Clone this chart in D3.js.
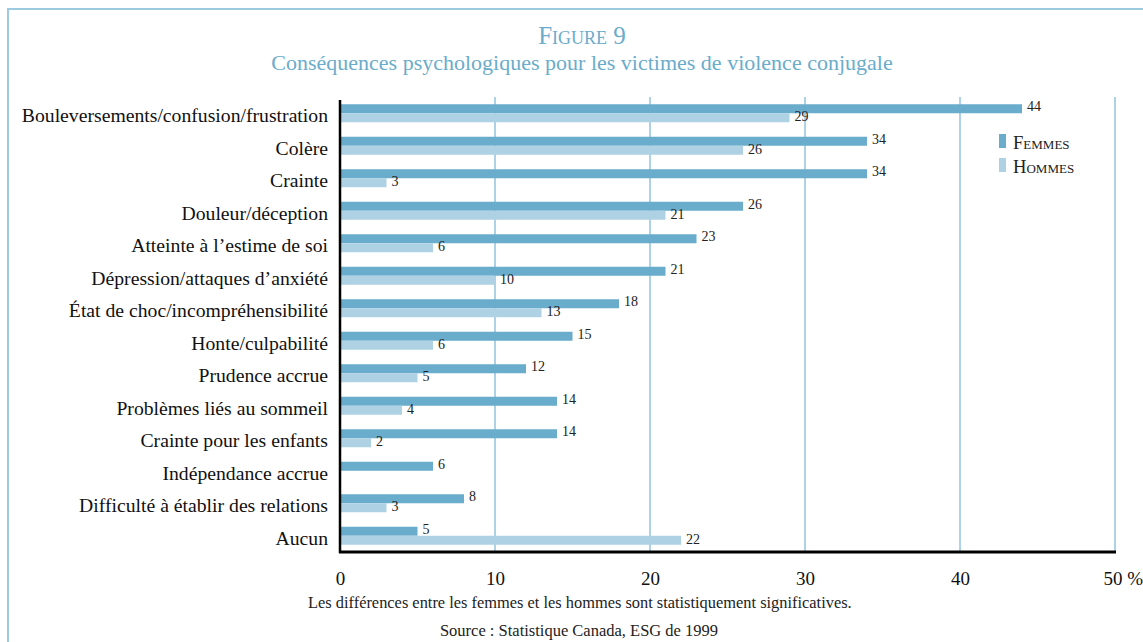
<!DOCTYPE html>
<html>
<head>
<meta charset="utf-8">
<script src="https://cdn.jsdelivr.net/npm/d3@7"></script>
<style>
  html, body { margin: 0; padding: 0; background: #fff; }
  svg text { font-family: "Liberation Serif", "DejaVu Serif", serif; }
</style>
</head>
<body>
<div id="chart"></div>
<script>
// Données
const categories = [
    'Bouleversements/confusion/frustration',
    'Colère',
    'Crainte',
    'Douleur/déception',
    'Atteinte à l\u2019estime de soi',
    'Dépression/attaques d\u2019anxiété',
    'État de choc/incompréhensibilité',
    'Honte/culpabilité',
    'Prudence accrue',
    'Problèmes liés au sommeil',
    'Crainte pour les enfants',
    'Indépendance accrue',
    'Difficulté à établir des relations',
    'Aucun'
];
const femmes = [44, 34, 34, 26, 23, 21, 18, 15, 12, 14, 14, 6, 8, 5];
const hommes = [29, 26, 3, 21, 6, 10, 13, 6, 5, 4, 2, null, 3, 22];
const xTicks = [0, 10, 20, 30, 40, 50];
const seriesNames = ['Femmes', 'Hommes'];

const COLORS = { Femmes: '#6aaccb', Hommes: '#aed2e3' };
const BLUE = '#6aaccb';

const width = 1143, height = 642;
const margin = { top: 97, bottom: 552, left: 340 };

const svg = d3.select('#chart').append('svg')
    .attr('width', width)
    .attr('height', height);

// cadre
svg.append('rect')
    .attr('x', 8).attr('y', 9)
    .attr('width', width + 20).attr('height', height + 20)
    .attr('fill', 'none')
    .attr('stroke', '#9ccae0')
    .attr('stroke-width', 2);

// titres
svg.append('text')
    .attr('x', 582).attr('y', 44)
    .attr('text-anchor', 'middle')
    .attr('fill', BLUE)
    .style('font-size', '25px')
    .style('font-variant', 'small-caps')
    .text('Figure 9');
svg.append('text')
    .attr('x', 582).attr('y', 70)
    .attr('text-anchor', 'middle')
    .attr('fill', BLUE)
    .style('font-size', '22px')
    .text('Conséquences psychologiques pour les victimes de violence conjugale');

const x = d3.scaleLinear().domain([0, 50]).range([margin.left, margin.left + 775]);
const y = d3.scaleBand().domain(categories).range([margin.top, margin.bottom]);
const barH = 9;

const g = svg.append('g');

// grille
g.selectAll('.grid')
    .data(xTicks.filter(d => d > 0))
    .join('line')
    .attr('class', 'grid')
    .attr('x1', d => x(d)).attr('x2', d => x(d))
    .attr('y1', margin.top).attr('y2', margin.bottom)
    .attr('stroke', '#5ea6cc')
    .attr('stroke-width', 1);

const rows = categories.map((c, i) => ({ cat: c, femmes: femmes[i], hommes: hommes[i] }));
const mid = d => y(d.cat) + y.bandwidth() / 2;

// barres femmes
g.selectAll('.bar-f')
    .data(rows)
    .join('rect')
    .attr('class', 'bar-f')
    .attr('x', x(0))
    .attr('y', d => mid(d) - barH)
    .attr('width', d => x(d.femmes) - x(0))
    .attr('height', barH)
    .attr('fill', COLORS.Femmes);

// barres hommes (pas de valeur pour Indépendance accrue)
g.selectAll('.bar-h')
    .data(rows.filter(d => d.hommes != null))
    .join('rect')
    .attr('class', 'bar-h')
    .attr('x', x(0))
    .attr('y', d => mid(d))
    .attr('width', d => x(d.hommes) - x(0))
    .attr('height', barH)
    .attr('fill', COLORS.Hommes);

// étiquettes de valeurs
g.selectAll('.lab-f')
    .data(rows)
    .join('text')
    .attr('class', 'lab-f')
    .attr('x', d => x(d.femmes) + 5)
    .attr('y', d => mid(d) - barH / 2 + 2.5)
    .style('font-size', '14px')
    .attr('fill', '#222')
    .text(d => d.femmes);

g.selectAll('.lab-h')
    .data(rows.filter(d => d.hommes != null))
    .join('text')
    .attr('class', 'lab-h')
    .attr('x', d => x(d.hommes) + 5)
    .attr('y', d => mid(d) + barH / 2 + 3.5)
    .style('font-size', '14px')
    .attr('fill', '#222')
    .text(d => d.hommes);

// catégories
g.selectAll('.cat')
    .data(categories)
    .join('text')
    .attr('class', 'cat')
    .attr('x', 328)
    .attr('y', d => y(d) + y.bandwidth() / 2 + 9)
    .attr('text-anchor', 'end')
    .attr('fill', '#111')
    .style('font-size', '19.7px')
    .text(d => d);

// axes
g.append('line')
    .attr('x1', x(0)).attr('x2', x(0))
    .attr('y1', 100).attr('y2', margin.bottom + 1)
    .attr('stroke', '#000').attr('stroke-width', 2.5);
g.append('line')
    .attr('x1', x(0) - 1).attr('x2', x(50) + 1)
    .attr('y1', margin.bottom).attr('y2', margin.bottom)
    .attr('stroke', '#000').attr('stroke-width', 3);

const xAxis = d3.axisBottom(x)
    .tickValues(xTicks)
    .tickSize(0)
    .tickPadding(0)
    .tickFormat(d => d === 50 ? '50 %' : d);
const xAxisG = svg.append('g')
    .attr('transform', 'translate(0,571)')
    .call(xAxis);
xAxisG.select('.domain').remove();
xAxisG.selectAll('text')
    .style('font-size', '19px')
    .style('font-family', '"Liberation Serif", serif')
    .attr('fill', '#111')
    .attr('dy', '0.71em')
    .attr('text-anchor', d => d === 50 ? 'start' : 'middle')
    .attr('dx', d => d === 50 ? '-12' : 0);

// légende
const legend = svg.append('g').attr('transform', 'translate(999,134)');
seriesNames.forEach((s, i) => {
    legend.append('rect')
        .attr('x', 0).attr('y', i * 24)
        .attr('width', 7).attr('height', 14)
        .attr('fill', COLORS[s]);
    legend.append('text')
        .attr('x', 14).attr('y', i * 24 + 15)
        .style('font-size', '18.6px')
        .style('font-variant', 'small-caps')
        .attr('fill', '#222')
        .text(s);
});

// notes
svg.append('text')
    .attr('x', 308).attr('y', 608)
    .style('font-size', '16.4px')
    .attr('fill', '#222')
    .text('Les différences entre les femmes et les hommes sont statistiquement significatives.');
svg.append('text')
    .attr('x', 579).attr('y', 636)
    .attr('text-anchor', 'middle')
    .style('font-size', '16.5px')
    .attr('fill', '#222')
    .text('Source : Statistique Canada, ESG de 1999');
</script>
</body>
</html>
